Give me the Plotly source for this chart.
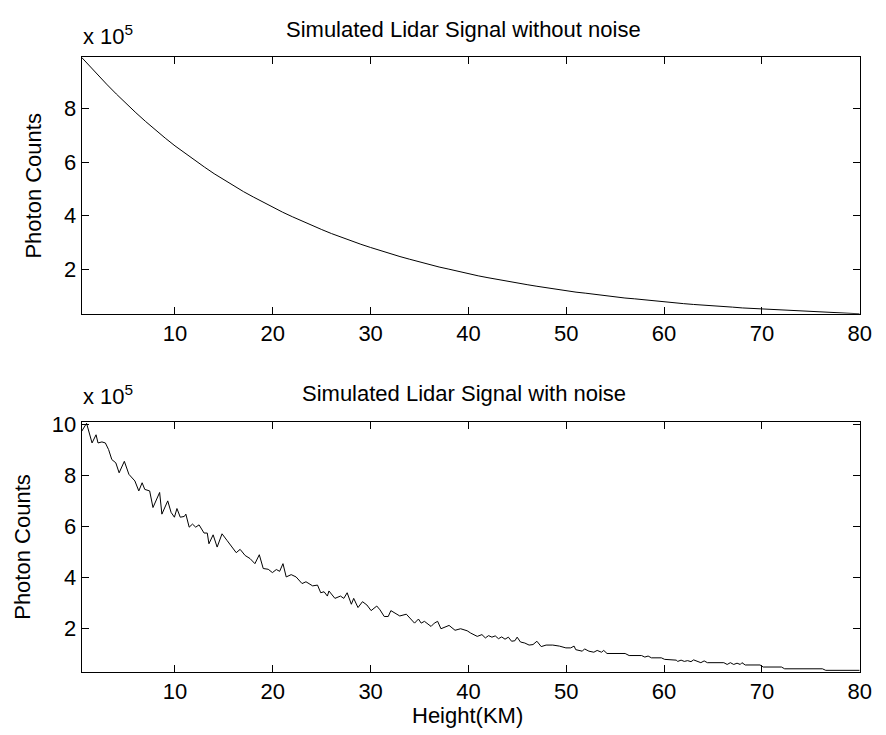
import plotly.graph_objects as go

# ---- data (photon counts in units of 1e5, heights in km) ----
height_clean = [0.45, 1, 2, 3, 4, 5, 6, 7, 8, 9, 10, 11, 12, 13, 14, 15, 16, 17, 18, 19, 20,
                21, 22, 23, 24, 25, 26, 27, 28, 29, 30, 31, 32, 33, 34, 35, 36, 37, 38, 39, 40,
                41, 42, 43, 44, 45, 46, 47, 48, 49, 50, 51, 52, 53, 54, 55, 56, 57, 58, 59, 60,
                61, 62, 63, 64, 65, 66, 67, 68, 69, 70, 71, 72, 73, 74, 75, 76, 77, 78, 79, 80]
counts_clean = [9.92, 9.70, 9.31, 8.92, 8.55, 8.19, 7.85, 7.52, 7.20, 6.90, 6.61, 6.34, 6.07, 5.82,
                5.57, 5.34, 5.12, 4.90, 4.70, 4.50, 4.31, 4.13, 3.96, 3.79, 3.63, 3.48, 3.33, 3.19,
                3.06, 2.93, 2.81, 2.69, 2.58, 2.47, 2.37, 2.27, 2.17, 2.08, 2.00, 1.91, 1.83, 1.75,
                1.68, 1.61, 1.54, 1.48, 1.42, 1.36, 1.30, 1.25, 1.19, 1.14, 1.10, 1.05, 1.01, 0.96,
                0.92, 0.89, 0.85, 0.81, 0.78, 0.75, 0.71, 0.68, 0.66, 0.63, 0.60, 0.58, 0.55, 0.53,
                0.51, 0.49, 0.47, 0.45, 0.43, 0.41, 0.39, 0.38, 0.36, 0.35, 0.33]

height_noisy = [0.45, 0.96, 1.52, 1.93, 2.13, 2.53, 2.88, 3.21, 3.54, 3.95, 4.29, 4.82, 5.29, 5.9,
                6.3, 6.64, 6.91, 7.41, 7.75, 8.43, 8.66, 9.26, 9.6, 9.94, 10.2, 10.54, 10.95, 11.11,
                11.45, 11.79, 12.12, 12.46, 12.97, 13.3, 13.47, 13.9, 14.31, 14.81, 15.32, 15.82,
                16.26, 16.66, 17.17, 17.67, 18.17, 18.62, 19.02, 19.53, 19.96, 20.36, 20.7, 21.04,
                21.37, 21.88, 22.38, 22.99, 23.39, 24.07, 24.57, 24.9, 25.24, 25.58, 25.74, 26.35,
                26.92, 27.26, 27.6, 28.03, 28.27, 28.71, 29.17, 29.62, 30.05, 30.63, 30.96, 31.39,
                31.8, 32.07, 32.54, 32.98, 33.65, 33.99, 34.49, 34.89, 35.17, 35.5, 35.84, 36.18,
                36.51, 36.85, 37.19, 37.52, 38.02, 38.63, 39.2, 39.87, 40.23, 40.9, 41.38, 41.73,
                42.06, 42.4, 42.74, 43.07, 43.4, 43.74, 44.08, 44.41, 44.75, 44.98, 45.32, 45.76,
                46.2, 46.6, 47.0, 47.44, 47.94, 48.62, 49.3, 49.96, 50.46, 50.8, 50.97, 51.64,
                51.87, 52.32, 52.82, 53.16, 53.6, 53.83, 54.17, 56.02, 56.43, 57.7, 58.03, 58.37,
                58.71, 59.72, 60.06, 61.24, 61.4, 61.74, 62.07, 62.41, 62.75, 63.02, 63.42, 63.76,
                64.1, 64.43, 66.11, 66.45, 66.78, 67.12, 67.46, 67.79, 67.96, 68.3, 69.81, 70.14,
                72.0, 72.33, 76.19, 76.53, 80.0]
counts_noisy = [9.73, 10.05, 9.28, 9.6, 9.28, 9.32, 9.28, 9.02, 8.63, 8.5, 8.11, 8.56, 8.05, 7.79,
                7.4, 7.72, 7.46, 7.4, 6.75, 7.34, 6.49, 7.01, 6.56, 6.37, 6.71, 6.37, 6.4, 6.49,
                5.98, 6.1, 5.98, 6.07, 5.75, 5.75, 5.33, 5.68, 5.2, 5.72, 5.46, 5.2,
                4.98, 5.11, 4.87, 4.75, 4.55, 4.9, 4.36, 4.33, 4.2, 4.32, 4.25, 4.55,
                4.03, 4.12, 4.03, 3.77, 3.84, 3.68, 3.71, 3.41, 3.45, 3.28, 3.48, 3.19,
                3.28, 3.19, 3.41, 2.96, 3.19, 2.83, 3.06, 2.93, 2.71, 2.89, 2.74, 2.48,
                2.48, 2.71, 2.61, 2.5, 2.57, 2.42, 2.22, 2.38, 2.22, 2.29, 2.18, 2.09,
                2.22, 2.29, 2.0, 2.05, 2.13, 1.94, 2.0, 1.92, 1.83, 1.7, 1.77, 1.64,
                1.73, 1.67, 1.72, 1.61, 1.68, 1.59, 1.67, 1.51, 1.53, 1.67, 1.48, 1.44,
                1.36, 1.38, 1.51, 1.3, 1.36, 1.36, 1.32, 1.25, 1.25, 1.32, 1.18, 1.12,
                1.21, 1.12, 1.08, 1.15, 1.08, 1.15, 1.03, 1.03, 0.95, 0.95, 0.89, 0.93,
                0.86, 0.86, 0.8, 0.77, 0.72, 0.77, 0.72, 0.75, 0.71, 0.78, 0.71, 0.67,
                0.74, 0.67, 0.67, 0.6, 0.67, 0.6, 0.65, 0.6, 0.67, 0.58, 0.58, 0.5,
                0.5, 0.43, 0.43, 0.37, 0.37]

x_ticks = [10, 20, 30, 40, 50, 60, 70, 80]
y_ticks_top = [2, 4, 6, 8]
y_ticks_bottom = [2, 4, 6, 8, 10]

title_top = "Simulated Lidar Signal without noise"
title_bottom = "Simulated Lidar Signal with noise"
y_label = "Photon Counts"
x_label = "Height(KM)"
exponent_label = "x 10<sup>5</sup>"

# ---- figure ----
W, H = 886, 735
FONT = "Liberation Sans, Arial, Helvetica, sans-serif"
FS = 22

def px_x(p):
    return p / W

def px_y(p):
    return 1 - p / H

fig = go.Figure()
fig.add_trace(go.Scatter(x=height_clean, y=counts_clean, mode="lines",
                         line=dict(color="black", width=1), xaxis="x", yaxis="y",
                         hoverinfo="skip"))
fig.add_trace(go.Scatter(x=height_noisy, y=counts_noisy, mode="lines",
                         line=dict(color="black", width=1), xaxis="x2", yaxis="y2",
                         hoverinfo="skip"))

axis_common = dict(showline=True, linecolor="black", linewidth=1, mirror="ticks",
                   ticks="inside", ticklen=7, tickcolor="black", tickwidth=1,
                   showgrid=False, zeroline=False,
                   tickfont=dict(family=FONT, size=FS, color="black"))

xdom = [px_x(82.7), px_x(871.5)]
fig.update_layout(
    width=W, height=H, autosize=False,
    margin=dict(l=0, r=0, t=0, b=0),
    paper_bgcolor="white", plot_bgcolor="white",
    showlegend=False,
    font=dict(family=FONT, size=FS, color="black"),
    xaxis=dict(domain=xdom, anchor="y", range=[0.45, 80], tickvals=x_ticks, **axis_common),
    yaxis=dict(domain=[px_y(308), px_y(48)], anchor="x", range=[0.33, 9.92],
               tickvals=y_ticks_top, **axis_common),
    xaxis2=dict(domain=xdom, anchor="y2", range=[0.45, 80], tickvals=x_ticks, **axis_common),
    yaxis2=dict(domain=[px_y(671), px_y(417.7)], anchor="x2", range=[0.31, 10.1],
                tickvals=y_ticks_bottom, **axis_common),
)

ann = []
ann.append(dict(text=title_top, x=px_x(470), y=px_y(20), xanchor="center", yanchor="middle"))
ann.append(dict(text=title_bottom, x=px_x(470), y=px_y(389), xanchor="center", yanchor="middle"))
ann.append(dict(text=y_label, x=px_x(34.5), y=px_y(178), textangle=-90,
                xanchor="center", yanchor="middle"))
ann.append(dict(text=y_label, x=px_x(22.5), y=px_y(544), textangle=-90,
                xanchor="center", yanchor="middle"))
ann.append(dict(text=x_label, x=px_x(473.5), y=px_y(715), xanchor="center", yanchor="middle"))
ann.append(dict(text=exponent_label, x=px_x(82), y=px_y(42), xanchor="left", yanchor="bottom"))
ann.append(dict(text=exponent_label, x=px_x(82), y=px_y(407), xanchor="left", yanchor="bottom"))
for a in ann:
    a.update(xref="paper", yref="paper", showarrow=False,
             font=dict(family=FONT, size=FS, color="black"))
fig.update_layout(annotations=ann)

fig.write_html("out.html", config={"displayModeBar": False, "staticPlot": True})
